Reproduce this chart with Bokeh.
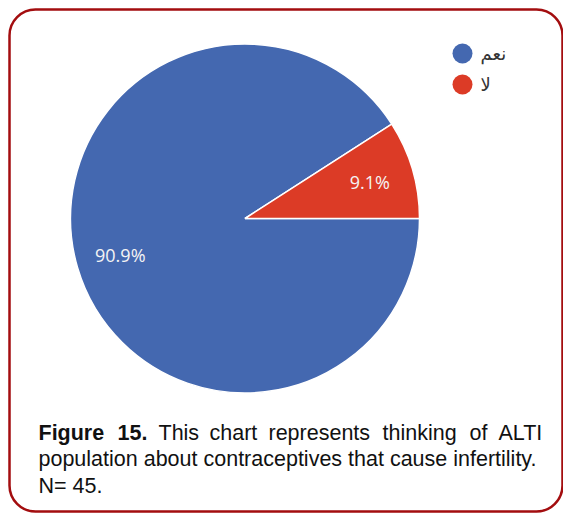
import numpy as np
from bokeh.plotting import figure
from bokeh.models import Range1d, ColumnDataSource
from bokeh.core.properties import value
from bokeh.embed import file_html
from bokeh.resources import INLINE

# ---- data ----
labels = ["نعم", "لا"]
values = [90.9, 9.1]
colors = ["#4468b0", "#dc3b26"]
pct_labels = ["90.9%", "9.1%"]

caption_line1_words = ["Figure", "15.", "This", "chart", "represents", "thinking", "of", "ALTI"]
caption_line2 = "population about contraceptives that cause infertility."
caption_line3 = "N= 45."

H = 524  # image height used to convert pixel rows to data y

p = figure(width=563, height=516, output_backend="svg", toolbar_location=None,
           x_range=Range1d(0, 563), y_range=Range1d(H - 516, H),
           x_axis_location=None, y_axis_location=None, min_border=0)
p.outline_line_color = None
p.grid.visible = False
p.background_fill_color = "white"
p.border_fill_color = "white"

# rounded frame
p.quad(left=[9], right=[562], top=[H - 9], bottom=[H - 511],
       fill_color=None, line_color="#a30d0f", line_width=2.5, border_radius=26)

# pie
cx, cy, R = 244.5, H - 218, 174.5
vals = np.array(values, dtype=float)
frac = vals / vals.sum()
cum = np.cumsum(frac)
start = -2 * np.pi * np.concatenate([[0], cum[:-1]])
end = -2 * np.pi * cum
mid = (start + end) / 2
src = ColumnDataSource(dict(start=start, end=end, color=colors, label=labels,
                            pct=pct_labels,
                            lx=cx + 0.745 * R * np.cos(mid),
                            ly=cy + 0.745 * R * np.sin(mid)))
p.wedge(x=cx, y=cy, radius=R, start_angle="start", end_angle="end",
        direction="clock", fill_color="color", line_color="white",
        line_width=1.5, source=src)
p.text(x="lx", y="ly", text="pct", source=src, text_color="#f4f4f4",
       text_font=value("Open Sans"), text_font_size="18px",
       text_align="center", text_baseline="middle")

# legend
leg_y = [H - 53, H - 84]
leg = ColumnDataSource(dict(x=[462, 462], y=leg_y, color=colors, label=labels,
                            tx=[480, 480]))
p.scatter(x="x", y="y", size=20, marker="circle", fill_color="color",
          line_color=None, source=leg)
p.text(x="tx", y="y", text="label", source=leg, text_color="#333333",
       text_font=value("DejaVu Sans"), text_font_size="18px",
       text_align="left", text_baseline="middle")

# caption
word_x = [38, 117, 158, 209, 268, 382, 469, 498]
cap_font = value("Liberation Sans")
fs = "21.5px"
p.text(x=word_x[:2], y=[H - 432] * 2, text=caption_line1_words[:2],
       text_font=cap_font, text_font_size=fs, text_font_style="bold",
       text_color="#111111", text_baseline="alphabetic")
p.text(x=word_x[2:], y=[H - 432] * 6, text=caption_line1_words[2:],
       text_font=cap_font, text_font_size=fs,
       text_color="#111111", text_baseline="alphabetic")
p.text(x=[38], y=[H - 458], text=[caption_line2], text_font=cap_font,
       text_font_size=fs, text_color="#111111", text_baseline="alphabetic")
p.text(x=[38], y=[H - 485], text=[caption_line3], text_font=cap_font,
       text_font_size=fs, text_color="#111111", text_baseline="alphabetic")

open("out.html", "w").write(file_html(p, INLINE))
